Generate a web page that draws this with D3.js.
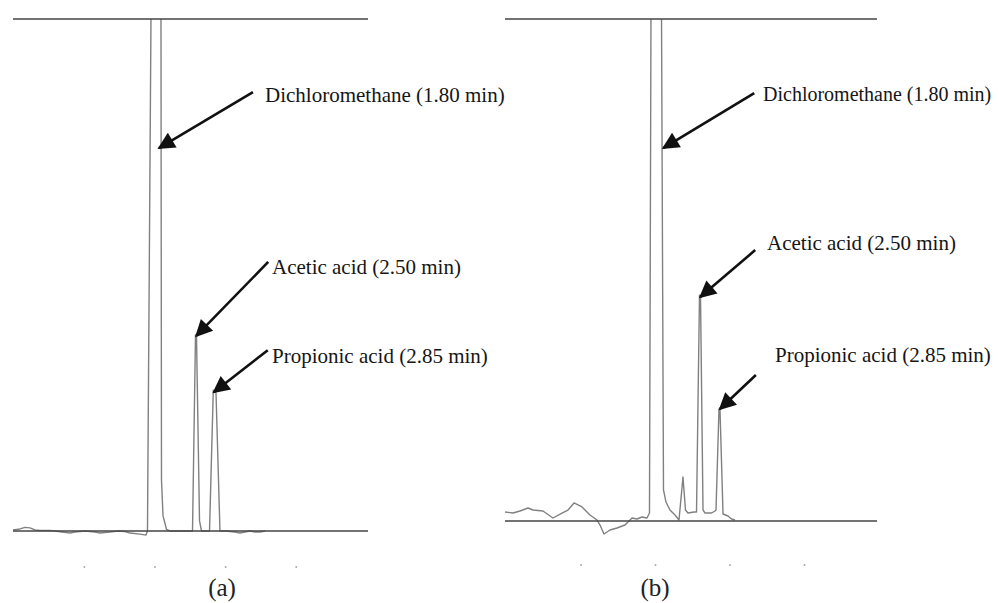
<!doctype html>
<html>
  <head>
    <script src="https://cdnjs.cloudflare.com/ajax/libs/d3/7.8.5/d3.min.js"></script>
    <style>
      body { margin: 0; background: #fff; }
      .frame { stroke: #444; stroke-width: 1.6; }
      .trace { fill: none; stroke: #808080; stroke-width: 1.4; stroke-linejoin: round; }
      .arrow { stroke: #111; stroke-width: 2.6; }
      .note { font-family: "Liberation Serif", serif; font-size: 21px; fill: #151515; }
      .panel-label { font-family: "Liberation Serif", serif; font-size: 25px; fill: #222; text-anchor: middle; }
    </style>
  </head>
  <body>
    <svg width="999" height="603"></svg>
    <script>
      // retention time (min) vs detector signal (top of frame = 100)
      var traceA = [
        [-0.713, 0.2], [-0.589, 0.4], [-0.501, 0.7], [-0.412, 0.6], [-0.324, 0.2], [-0.235, 0.1],
        [-0.058, 0.1], [0.030, 0], [0.154, -0.2], [0.296, -0.4], [0.384, -0.2], [0.561, 0],
        [0.738, -0.2], [0.827, -0.4], [1.004, -0.2], [1.145, 0], [1.269, -0.1], [1.358, -0.4],
        [1.535, -0.6], [1.641, -0.8], [1.667, 0], [1.729, 100], [1.818, 200], [1.906, 100],
        [1.915, 10], [1.942, 3], [2.004, 0.3], [2.065, 0], [2.331, 0], [2.464, 0],
        [2.517, 38.3], [2.535, 37.8], [2.588, 2], [2.623, 0], [2.765, 0], [2.832, 27.5],
        [2.880, 27.0], [2.950, 0], [3.039, 0], [3.216, -0.2], [3.304, -0.4], [3.393, -0.2],
        [3.481, 0], [3.570, -0.2], [3.658, -0.2], [3.747, 0]
      ];
      var traceB = [
        [-0.725, 1.79], [-0.591, 1.59], [-0.473, 1.99], [-0.339, 2.59], [-0.255, 2.19], [-0.088, 1.99],
        [0.080, 0.60], [0.231, 1.59], [0.332, 2.19], [0.433, 3.59], [0.567, 2.79], [0.701, 1.20],
        [0.818, 0.20], [0.869, -0.80], [0.936, -2.59], [1.037, -1.79], [1.154, -1.39], [1.288, -0.80],
        [1.406, 0.60], [1.490, 0.40], [1.573, 0.80], [1.657, 0.60], [1.699, 1.59], [1.724, 100],
        [1.808, 200], [1.901, 100], [1.934, 6.18], [1.976, 3.78], [2.043, 2.19], [2.127, 1.20],
        [2.194, 0.20], [2.261, 8.76], [2.303, 2.19], [2.345, 1.59], [2.446, 1.79], [2.488, 1.79],
        [2.538, 45.0], [2.555, 44.8], [2.597, 2.19], [2.631, 1.59], [2.740, 1.59], [2.798, 1.99],
        [2.815, 2.19], [2.865, 22.3], [2.882, 22.1], [2.933, 1.39], [3.016, 1.00], [3.075, 0.40],
        [3.134, 0.20]
      ];
      var tickMinutes = [0.55, 1.80, 3.05, 4.30];
      var compounds = ["Dichloromethane (1.80 min)", "Acetic acid (2.50 min)", "Propionic acid (2.85 min)"];
      // where each arrow points, in [time, signal]
      var arrowTipsA = [[1.87, 74.8], [2.53, 38.1], [2.84, 27.1]];
      var arrowTipsB = [[1.93, 74.3], [2.55, 44.6], [2.88, 22.3]];
      var panelLabels = ["(a)", "(b)"];

      var panels = [
        { data: traceA, tips: arrowTipsA, label: panelLabels[0], domain: [-0.713, 5.57],
          left: 13, right: 368, top: 19, base: 531, tickY: 567, labelX: 222,
          tails: [[94, -56], [72, -74], [54, -42]], textAt: [[265, 102], [272, 274], [272, 363]] },
        { data: traceB, tips: arrowTipsB, label: panelLabels[1], domain: [-0.725, 5.516],
          left: 505, right: 877, top: 19, base: 521, tickY: 565, labelX: 655,
          tails: [[91, -55], [55, -47], [36, -34]], textAt: [[763, 101], [767, 250], [775, 362]] }
      ];

      var svg = d3.select("svg");
      var defs = svg.append("defs");
      defs.append("marker")
          .attr("id", "head")
          .attr("viewBox", "0 0 10 10")
          .attr("refX", 9).attr("refY", 5)
          .attr("markerWidth", 8).attr("markerHeight", 6.6)
          .attr("markerUnits", "strokeWidth")
          .attr("orient", "auto")
        .append("path")
          .attr("d", "M0,0L10,5L0,10z")
          .attr("fill", "#111");

      panels.forEach(function (p, i) {
        var x = d3.scaleLinear().domain(p.domain).range([p.left, p.right]);
        var y = d3.scaleLinear().domain([0, 100]).range([p.base, p.top]);
        var g = svg.append("g");

        defs.append("clipPath").attr("id", "clip" + i)
          .append("rect")
            .attr("x", p.left).attr("y", p.top)
            .attr("width", p.right - p.left).attr("height", 603 - p.top);

        var line = d3.line().x(d => x(d[0])).y(d => y(d[1]));

        g.append("path")
            .datum(p.data)
            .attr("class", "trace")
            .attr("clip-path", "url(#clip" + i + ")")
            .attr("d", line);

        g.append("line").attr("class", "frame")
            .attr("x1", p.left).attr("x2", p.right)
            .attr("y1", y(100)).attr("y2", y(100));
        g.append("line").attr("class", "frame")
            .attr("x1", p.left).attr("x2", p.right)
            .attr("y1", y(0)).attr("y2", y(0));

        g.selectAll("circle.tick")
          .data(tickMinutes)
          .enter()
          .append("circle")
            .attr("class", "tick")
            .attr("cx", d => x(d))
            .attr("cy", p.tickY)
            .attr("r", 1)
            .attr("fill", "#aaa");

        p.tips.forEach(function (tip, k) {
          var tx = x(tip[0]), ty = y(tip[1]);
          g.append("line")
              .attr("class", "arrow")
              .attr("x1", tx + p.tails[k][0]).attr("y1", ty + p.tails[k][1])
              .attr("x2", tx).attr("y2", ty)
              .attr("marker-end", "url(#head)");
          var t = g.append("text")
              .attr("class", "note")
              .attr("x", p.textAt[k][0])
              .attr("y", p.textAt[k][1])
              .text(compounds[k]);
          // right panel's dichloromethane label runs into the page edge, a bit smaller
          if (i == 1 && k == 0) t.style("font-size", "20px");
        });

        g.append("text")
            .attr("class", "panel-label")
            .attr("x", p.labelX)
            .attr("y", 596)
            .text(p.label);
      });
    </script>
  </body>
</html>
